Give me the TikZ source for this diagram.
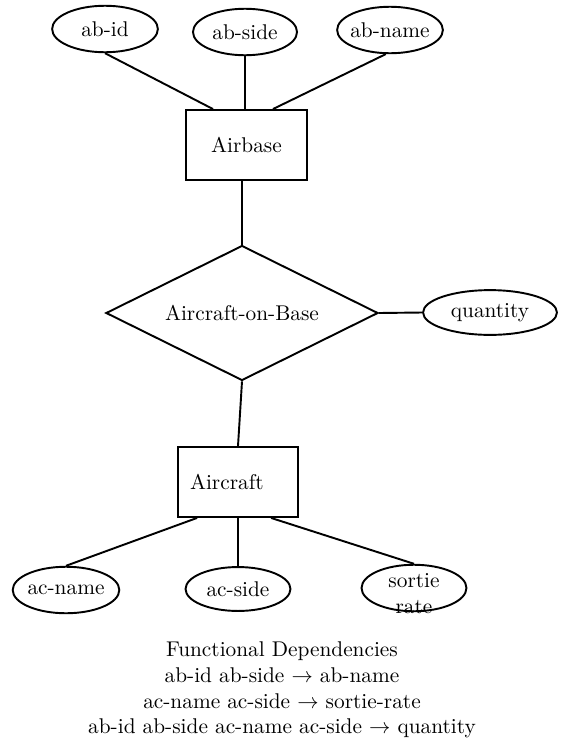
\documentclass[tikz,border=0pt]{standalone}
\usepackage{amsmath}
\usepackage{tikz}
\usetikzlibrary{shapes.geometric}
\tikzset{
    entity/.style={
        draw, rectangle, minimum width=56.6pt, minimum height=32.8pt
    },
    attrib/.style={
        draw, ellipse, inner xsep=-3pt, inner ysep=0pt,
        minimum height=21.8pt, minimum width=#1
    },
    attrib/.default=49.6pt,
    relship/.style={
        draw, diamond, aspect=2, inner sep=2pt,
        minimum width=127.6pt, minimum height=63.3pt
    }
}

\begin{document}
\begin{tikzpicture}[x=0.469pt, y=-0.469pt, line width=0.9pt]
		\useasboundingbox (0,0) rectangle (564,751);

		% Entities and the relationship between them
		\node[entity] (airbase) at (246.5,145) {Airbase};
		\node[relship] (onbase) at (242,313) {Aircraft-on-Base};
		\node[entity, text width=45pt, align=left, inner xsep=5.6pt] (aircraft) at (238,482) {Aircraft};

		% Attributes of Airbase
		\node[attrib] (abid) at (105,29) {ab-id};
		\node[attrib=48.8pt] (abside) at (245,32) {ab-side};
		\node[attrib] (abname) at (390,30) {ab-name};

		% Attribute of the relationship
		\node[attrib=62.8pt, minimum height=21pt] (quantity) at (490,312.5) {quantity};

		% Attributes of Aircraft
		\node[attrib=50pt] (acname) at (66,590) {ac-name};
		\node[attrib=49.2pt, minimum height=20.6pt] (acside) at (238,589) {ac-side};
		\node[attrib=49.2pt, label={[align=center, yshift=-2.5pt]center:sortie\\rate}] (sortie) at (414,588) {};

		% Connectors
		\draw (abid.south) -- ([xshift=-15.7pt]airbase.north);
		\draw (abside.south) -- (abside.south |- airbase.north);
		\draw (abname.-100) -- ([xshift=12.4pt]airbase.north);
		\draw (onbase.north) -- (onbase.north |- airbase.south);
		\draw (onbase.east) -- (quantity.west);
		\draw (onbase.south) -- (aircraft.north);
		\draw (acname.north) -- ([xshift=-19.2pt]aircraft.south);
		\draw (acside.north) -- (acside.north |- aircraft.south);
		\draw (sortie.north) -- ([xshift=15.5pt]aircraft.south);

		% Dependencies below the diagram
		\node[align=center, inner sep=0pt] (fds) at (282,690) {Functional Dependencies\\
			ab-id ab-side $\rightarrow$ ab-name\\
			ac-name ac-side $\rightarrow$ sortie-rate\\
			ab-id ab-side ac-name ac-side $\rightarrow$ quantity};

	\end{tikzpicture}
\end{document}
